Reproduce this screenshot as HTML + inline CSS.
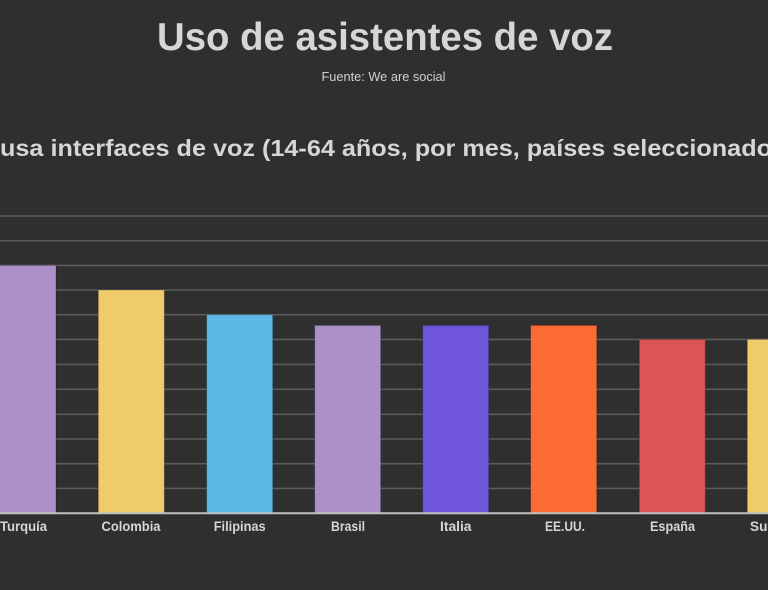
<!DOCTYPE html>
<html>
<head>
<meta charset="utf-8">
<style>
  html,body{margin:0;padding:0;background:#2f2f2f;}
  body{width:768px;height:590px;overflow:hidden;}
  svg{display:block;}
  text{font-family:"Liberation Sans", sans-serif;font-weight:bold;fill:#d6d6d6;}
</style>
</head>
<body>
<svg width="768" height="590" viewBox="0 0 768 590" xmlns="http://www.w3.org/2000/svg">
  <rect x="0" y="0" width="768" height="590" fill="#2f2f2f"/>
  <text x="157" y="50" font-size="39" textLength="456" lengthAdjust="spacingAndGlyphs">Uso de asistentes de voz</text>
  <text x="321.5" y="81" font-size="12.5" textLength="124" lengthAdjust="spacingAndGlyphs" style="font-weight:normal;fill:#d0d0d0">Fuente: We are social</text>
  <text x="0" y="156" font-size="23.5" textLength="772" lengthAdjust="spacingAndGlyphs">usa interfaces de voz (14-64 años, por mes, países seleccionado</text>

  <g stroke="#5b5b5b" stroke-width="1.6">
    <line x1="0" y1="216" x2="768" y2="216"/>
    <line x1="0" y1="240.7" x2="768" y2="240.7"/>
    <line x1="0" y1="265.4" x2="768" y2="265.4"/>
    <line x1="0" y1="290" x2="768" y2="290"/>
    <line x1="0" y1="314.7" x2="768" y2="314.7"/>
    <line x1="0" y1="339.4" x2="768" y2="339.4"/>
    <line x1="0" y1="364.4" x2="768" y2="364.4"/>
    <line x1="0" y1="389.3" x2="768" y2="389.3"/>
    <line x1="0" y1="414.3" x2="768" y2="414.3"/>
    <line x1="0" y1="439" x2="768" y2="439"/>
    <line x1="0" y1="463.7" x2="768" y2="463.7"/>
    <line x1="0" y1="488.4" x2="768" y2="488.4"/>
  </g>

  <g stroke="rgba(0,0,0,0.18)" stroke-width="1">
    <rect x="-10" y="265.4" width="66" height="247.6" fill="#ad90c8"/>
    <rect x="98.3" y="290" width="66" height="223" fill="#efcb6a"/>
    <rect x="206.7" y="314.7" width="66" height="198.3" fill="#5db8e6"/>
    <rect x="314.7" y="325.4" width="66" height="187.6" fill="#ad90c8"/>
    <rect x="422.7" y="325.4" width="66" height="187.6" fill="#6e55d9"/>
    <rect x="530.7" y="325.4" width="66" height="187.6" fill="#ff6b35"/>
    <rect x="639.3" y="339.4" width="66" height="173.6" fill="#dc5456"/>
    <rect x="747.3" y="339.4" width="66" height="173.6" fill="#efcb6a"/>
  </g>

  <line x1="0" y1="513.3" x2="768" y2="513.3" stroke="#c0c0c0" stroke-width="2"/>

  <g font-size="13.5">
    <text x="0" y="531" textLength="47" lengthAdjust="spacingAndGlyphs">Turquía</text>
    <text x="101.5" y="531" textLength="59" lengthAdjust="spacingAndGlyphs">Colombia</text>
    <text x="213.7" y="531" textLength="52" lengthAdjust="spacingAndGlyphs">Filipinas</text>
    <text x="331" y="531" textLength="34" lengthAdjust="spacingAndGlyphs">Brasil</text>
    <text x="440" y="531" textLength="31.5" lengthAdjust="spacingAndGlyphs">Italia</text>
    <text x="545" y="531" textLength="40" lengthAdjust="spacingAndGlyphs">EE.UU.</text>
    <text x="650" y="531" textLength="45" lengthAdjust="spacingAndGlyphs">España</text>
    <text x="750" y="531" textLength="44" lengthAdjust="spacingAndGlyphs">Suecia</text>
  </g>
</svg>
</body>
</html>
